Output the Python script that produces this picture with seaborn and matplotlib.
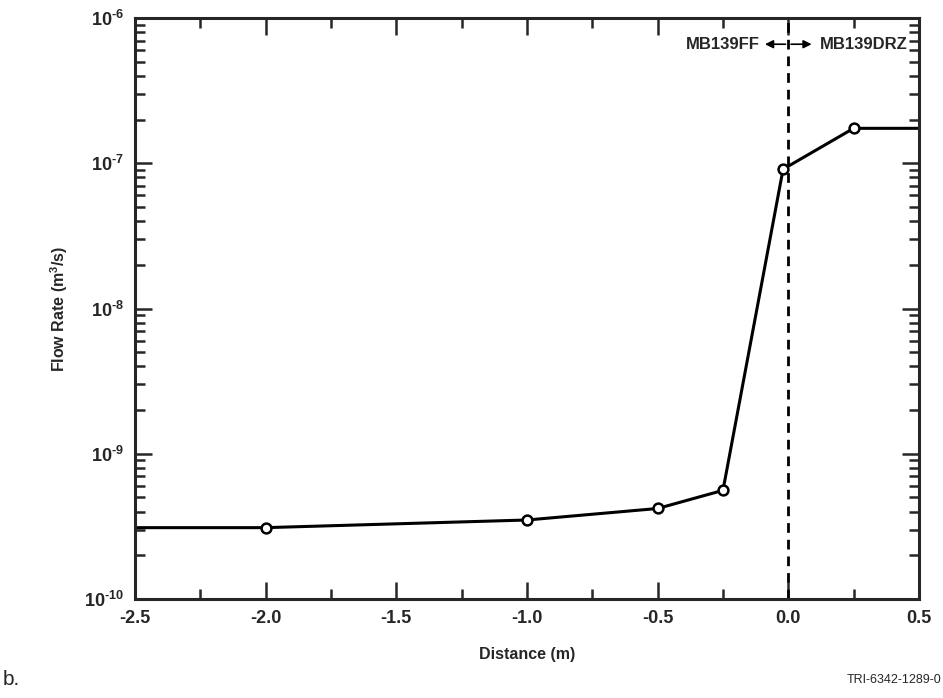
import numpy as np
import pandas as pd
import matplotlib
matplotlib.use("Agg")
import matplotlib.pyplot as plt
import seaborn as sns
from matplotlib.ticker import LogLocator, MultipleLocator, FuncFormatter, NullFormatter

# values
distance = [-2.5, -2.0, -1.0, -0.5, -0.25, -0.02, 0.25, 0.5]
flow_rate = [3.1e-10, 3.1e-10, 3.5e-10, 4.2e-10, 5.6e-10, 9.1e-8, 1.74e-7, 1.74e-7]
marked = [False, True, True, True, True, True, True, False]

df = pd.DataFrame({'Distance': distance, 'Flow': flow_rate, 'marked': marked})

sns.set_style('ticks')
plt.rcParams['font.family'] = ['Liberation Sans', 'DejaVu Sans']
plt.rcParams['mathtext.fontset'] = 'custom'
plt.rcParams['mathtext.rm'] = 'Liberation Sans:bold'
plt.rcParams['mathtext.bf'] = 'Liberation Sans:bold'
plt.rcParams['mathtext.default'] = 'bf'
plt.rcParams['axes.unicode_minus'] = False

fig = plt.figure(figsize=(9.43, 6.98), dpi=100)
ax = fig.add_axes([0.1432, 0.1418, 0.8313, 0.8324])

sns.lineplot(data=df, x='Distance', y='Flow', color='black', linewidth=2.2, ax=ax)
sns.scatterplot(data=df[df['marked']], x='Distance', y='Flow', ax=ax,
                marker='o', s=50, facecolor='white', edgecolor='black',
                linewidth=1.8, zorder=5)

ax.axvline(0.0, color='black', linestyle=(0, (3.5, 2.5)), linewidth=2)

ax.set_yscale('log')
ax.set_xlim(-2.5, 0.5)
ax.set_ylim(1e-10, 1e-6)

ax.set_xticks(np.arange(-2.5, 0.51, 0.5))
ax.xaxis.set_minor_locator(MultipleLocator(0.25))
ax.set_yticks(10.0 ** np.arange(-10, -5))
ax.yaxis.set_minor_locator(LogLocator(base=10, subs=np.arange(2, 10), numticks=20))
ax.xaxis.set_major_formatter(FuncFormatter(lambda v, p: f'{v:.1f}'))
ax.yaxis.set_major_formatter(
    FuncFormatter(lambda v, p: r'$10^{\text{%d}}$' % round(np.log10(v))))
ax.xaxis.set_minor_formatter(NullFormatter())
ax.yaxis.set_minor_formatter(NullFormatter())

ax.tick_params(which='both', direction='in', top=True, right=True, width=1.8,
               labelsize=13, pad=8)
ax.tick_params(which='major', length=12)
ax.tick_params(which='minor', length=7)
for lab in ax.get_xticklabels():
    lab.set_fontweight('bold')
for sp in ax.spines.values():
    sp.set_linewidth(2.2)
    sp.set_visible(True)

ax.set_xlabel('Distance (m)', fontsize=11.5, fontweight='bold', labelpad=14)
ax.set_ylabel(r'Flow Rate (m$^{3}$/s)', fontsize=11.5, fontweight='bold', labelpad=10)

# boundary annotation
ax.annotate('', xy=(-0.1, 6.6e-7), xytext=(0.0, 6.6e-7),
            arrowprops=dict(arrowstyle='-|>', color='black', lw=1.2, mutation_scale=12))
ax.annotate('', xy=(0.1, 6.6e-7), xytext=(0.0, 6.6e-7),
            arrowprops=dict(arrowstyle='-|>', color='black', lw=1.2, mutation_scale=12))
ax.text(-0.11, 6.6e-7, 'MB139FF', ha='right', va='center', fontsize=12, fontweight='bold')
ax.text(0.12, 6.6e-7, 'MB139DRZ', ha='left', va='center', fontsize=12, fontweight='bold')

fig.text(0.003, 0.026, 'b.', fontsize=15, ha='left', va='center')
fig.text(0.998, 0.026, 'TRI-6342-1289-0', fontsize=9, ha='right', va='center')

fig.savefig('out.png', dpi=100)
